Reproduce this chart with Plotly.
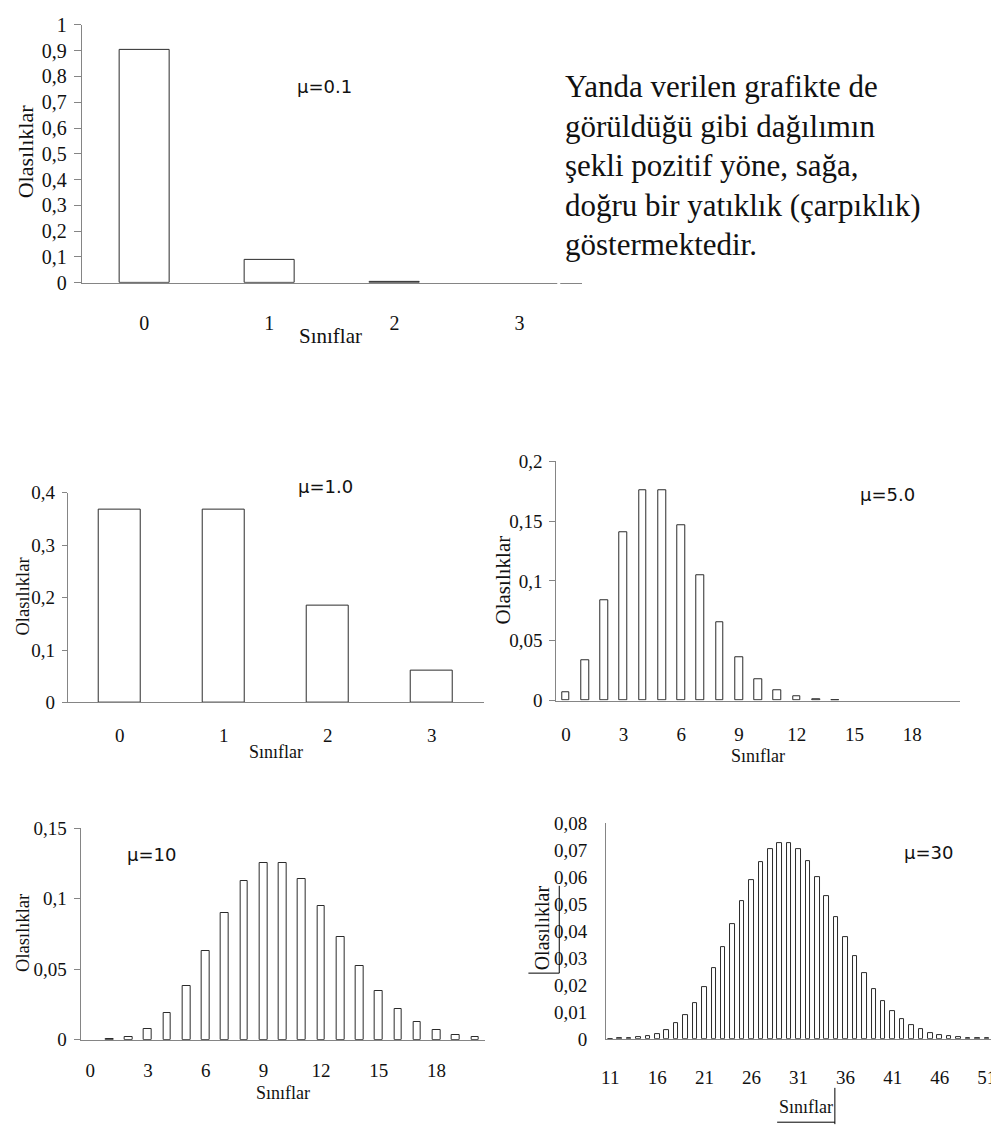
import plotly.graph_objects as go

W, H = 999, 1135
# the page body adds an 8px margin, so the figure is drawn 8px right / 8px down
OX, OY = 8, 8

# ---------------- data ----------------
cls_mu01 = [0, 1, 2]
p_mu01 = [0.905, 0.090, 0.005]

cls_mu1 = [0, 1, 2, 3]
p_mu1 = [0.368, 0.368, 0.184, 0.061]

cls_mu5 = list(range(0, 15))
p_mu5 = [0.0067, 0.0337, 0.0842, 0.1404, 0.1755, 0.1755, 0.1462, 0.1044, 0.0653, 0.0363,
         0.0181, 0.0082, 0.0034, 0.0013, 0.0005]

cls_mu10 = list(range(1, 21))
p_mu10 = [0.0005, 0.0023, 0.0076, 0.0189, 0.0378, 0.0631, 0.0901, 0.1126, 0.1251,
          0.1251, 0.1137, 0.0948, 0.0729, 0.0521, 0.0347, 0.0217, 0.0128, 0.0071, 0.0037, 0.0019]

cls_mu30 = list(range(11, 52))
p_mu30 = [0.0000, 0.0001, 0.0002, 0.0005, 0.0010, 0.0019, 0.0034, 0.0057, 0.0089, 0.0134,
          0.0192, 0.0261, 0.0341, 0.0426, 0.0511, 0.0590, 0.0655, 0.0702, 0.0726, 0.0726,
          0.0703, 0.0659, 0.0599, 0.0529, 0.0453, 0.0378, 0.0306, 0.0242, 0.0186, 0.0139,
          0.0102, 0.0073, 0.0051, 0.0035, 0.0023, 0.0015, 0.0010, 0.0006, 0.0004, 0.0002, 0.0001]

x_ticks_small = [0, 1, 2, 3]
x_ticks_mu5 = [0, 3, 6, 9, 12, 15, 18]
x_ticks_mu30 = [11, 16, 21, 26, 31, 36, 41, 46, 51]

y_ticks_mu01 = [0, 0.1, 0.2, 0.3, 0.4, 0.5, 0.6, 0.7, 0.8, 0.9, 1]
y_text_mu01 = ["0", "0,1", "0,2", "0,3", "0,4", "0,5", "0,6", "0,7", "0,8", "0,9", "1"]
y_ticks_mu1 = [0, 0.1, 0.2, 0.3, 0.4]
y_text_mu1 = ["0", "0,1", "0,2", "0,3", "0,4"]
y_ticks_mu5 = [0, 0.05, 0.1, 0.15, 0.2]
y_text_mu5 = ["0", "0,05", "0,1", "0,15", "0,2"]
y_ticks_mu10 = [0, 0.05, 0.1, 0.15]
y_text_mu10 = ["0", "0,05", "0,1", "0,15"]
y_ticks_mu30 = [0, 0.01, 0.02, 0.03, 0.04, 0.05, 0.06, 0.07, 0.08]
y_text_mu30 = ["0", "0,01", "0,02", "0,03", "0,04", "0,05", "0,06", "0,07", "0,08"]

mu_labels = ["μ=0.1", "μ=1.0", "μ=5.0", "μ=10", "μ=30"]
y_title = "Olasılıklar"
x_title = "Sınıflar"

side_text = ["Yanda verilen grafikte de", "görüldüğü gibi dağılımın",
             "şekli pozitif yöne, sağa,", "doğru bir yatıklık (çarpıklık)",
             "göstermektedir."]

# ---------------- styling helpers ----------------
SERIF = "Liberation Serif"
SANS = "DejaVu Sans"
AXC = "#858585"
BARLINE = "#2b2b2b"
TXT = "#111111"


def px(x):
    return (x - OX) / W


def py(y):
    return 1 - (y - OY) / H


fig = go.Figure()

# (x, y, xpix, ypix, xrange, yrange, xticks, yticks, ytext, barwidth, yticklen, xstand, ystand, tickfontsize)
panels = [
    (cls_mu01, p_mu01, (77, 580), (14, 277), [-0.5, 3.5], [0, 1], x_ticks_small, y_ticks_mu01, y_text_mu01, 0.4, 7, 22, 3, 20),
    (cls_mu1, p_mu1, (63, 481), (491, 705), [-0.5, 3.5], [0, 0.4], x_ticks_small, y_ticks_mu1, y_text_mu1, 0.4, 5, 16, 3, 19),
    (cls_mu5, p_mu5, (554, 960), (459, 703), [-0.5, 20.5], [0, 0.2], x_ticks_mu5, y_ticks_mu5, y_text_mu5, 0.4, 6, 17, 3, 19),
    (cls_mu10, p_mu10, (76, 482), (833, 1049), [-0.5, 20.5], [0, 0.15], x_ticks_mu5, y_ticks_mu10, y_text_mu10, 0.4, 6, 13, 3, 19),
    (cls_mu30, p_mu30, (604, 999), (828, 1048), [10.55, 52.3], [0, 0.08], x_ticks_mu30, y_ticks_mu30, y_text_mu30, 0.48, 0, 21, 14, 19),
]

layout_axes = {}
for i, (xs, ys, (xl, xr), (yt, yb), xr_, yr_, xt, yv, ytx, bw, tl, xst, yst, fs) in enumerate(panels, start=1):
    sfx = "" if i == 1 else str(i)
    tickfont = dict(family=SERIF, size=fs, color=TXT)
    fig.add_trace(go.Bar(
        x=xs, y=ys, width=bw,
        marker=dict(color="white", line=dict(color=BARLINE, width=1)),
        xaxis="x" + sfx, yaxis="y" + sfx, showlegend=False, hoverinfo="x+y",
    ))
    layout_axes["xaxis" + sfx] = dict(
        domain=[px(xl), px(xr)], range=xr_, anchor="y" + sfx,
        showline=True, linecolor=AXC, linewidth=1, showgrid=False, zeroline=False,
        tickmode="array", tickvals=xt, ticktext=[str(v) for v in xt], ticks="",
        tickfont=tickfont, ticklabelstandoff=xst, ticklabeloverflow="allow", fixedrange=True,
    )
    layout_axes["yaxis" + sfx] = dict(
        domain=[py(yb), py(yt)], range=yr_, anchor="x" + sfx,
        showline=True, linecolor=AXC, linewidth=1, showgrid=False, zeroline=False,
        tickmode="array", tickvals=yv, ticktext=ytx,
        ticks="outside" if tl else "", ticklen=tl if tl else 0, tickcolor=AXC, tickwidth=1,
        tickfont=tickfont, ticklabelstandoff=yst, ticklabeloverflow="allow", fixedrange=True,
    )

annotations = []


def ann(text, x, y, size, family, angle=0, xanchor="center", yanchor="middle", align="center"):
    annotations.append(dict(text=text, x=px(x), y=py(y), xref="paper", yref="paper",
                            showarrow=False, xanchor=xanchor, yanchor=yanchor, align=align,
                            textangle=angle, font=dict(family=family, size=size, color=TXT)))


# mu labels
ann(mu_labels[0], 321, 77, 18, SANS)
ann(mu_labels[1], 322, 485, 18, SANS)
ann(mu_labels[2], 887, 493, 18, SANS)
ann(mu_labels[3], 147, 860, 18, SANS)
ann(mu_labels[4], 928, 858, 18, SANS)

# axis titles
ann(y_title, 20, 143, 22, SERIF, angle=-90)
ann(x_title, 327, 331, 21, SERIF)
ann(y_title, 18, 597, 18.5, SERIF, angle=-90)
ann(x_title, 272, 755, 18, SERIF)
ann(y_title, 500, 580, 21, SERIF, angle=-90)
ann(x_title, 757, 760, 18, SERIF)
ann(y_title, 18, 940, 18.5, SERIF, angle=-90)
ann(x_title, 279, 1103, 18, SERIF)
ann(y_title, 540, 935, 20, SERIF, angle=-90)
ann(x_title, 805, 1117, 18, SERIF)

# side text, one line each
for k, line in enumerate(side_text):
    ann(line, 561, 77 + 40.3 * k, 31, SERIF, xanchor="left")

shapes = [
    # gap in the top chart's axis line (text box edge)
    dict(type="rect", xref="paper", yref="paper", x0=px(555), x1=px(558), y0=py(281), y1=py(274),
         fillcolor="white", line=dict(width=0), layer="above"),
    # text-box borders around the last panel's titles
    dict(type="line", xref="paper", yref="paper", x0=px(526), x1=px(557), y0=py(981), y1=py(981),
         line=dict(color="black", width=1)),
    dict(type="line", xref="paper", yref="paper", x0=px(557), x1=px(557), y0=py(892), y1=py(981),
         line=dict(color="black", width=1)),
    dict(type="line", xref="paper", yref="paper", x0=px(776), x1=px(834), y0=py(1133), y1=py(1133),
         line=dict(color="black", width=1)),
    dict(type="line", xref="paper", yref="paper", x0=px(834), x1=px(834), y0=py(1098), y1=py(1135),
         line=dict(color="black", width=1)),
]

fig.update_layout(
    width=W, height=H, margin=dict(l=0, r=0, t=0, b=0),
    paper_bgcolor="white", plot_bgcolor="white",
    annotations=annotations, shapes=shapes, bargap=0, showlegend=False,
    **layout_axes,
)

fig.write_html("out.html")
